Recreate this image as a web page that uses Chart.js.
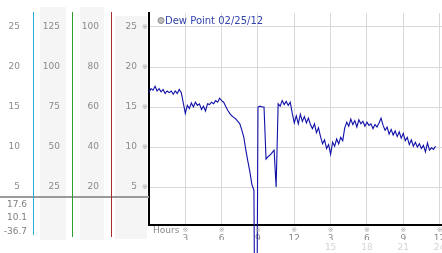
<!DOCTYPE html>
<html>
<head>
<meta charset="utf-8">
<script src="https://cdn.jsdelivr.net/npm/chart.js@4"></script>
<style>
	body { margin: 0; background: #fff; }
	#wrap { width: 442px; height: 253px; }
</style>
</head>
<body>
<div id="wrap"><canvas id="dewChart" width="442" height="253"></canvas></div>
<script>
"use strict";

// readings every 10 minutes, starting at midnight
const stepMinutes = 10;
const dewPoint = [
	16.8, 17.3, 17.1, 17.6, 17.0, 17.3, 16.9, 17.2, 16.7, 17.0, 16.8, 17.0, 16.6, 17.0, 16.7, 17.2, 16.8, 15.5,
	14.2, 15.2, 14.8, 15.5, 15.0, 15.6, 15.2, 15.4, 14.7, 15.1, 14.5, 15.4, 15.3, 15.6, 15.4, 15.8, 15.6, 16.1,
	15.8, 15.6, 15.1, 14.6, 14.2, 13.9, 13.7, 13.5, 13.2, 12.9, 12.1, 11.2, 9.6, 8.2, 6.9, 5.3, 4.6, -36.7,
	15.0, 15.1, 15.0, 15.0, 8.5, 8.8, 9.0, 9.3, 9.6, 5.0, 15.4, 15.1, 15.8, 15.3, 15.7, 15.2, 15.6, 14.2,
	13.0, 13.9, 12.9, 14.1, 13.2, 13.8, 13.0, 13.6, 12.8, 12.3, 12.9, 11.8, 12.4, 11.3, 10.4, 10.9, 9.8, 10.3,
	9.1, 10.6, 10.1, 11.0, 10.4, 11.2, 10.8, 12.4, 13.1, 12.6, 13.5, 12.8, 13.3, 12.5, 13.4, 12.9, 13.2, 12.6,
	13.1, 12.7, 12.9, 12.3, 12.8, 12.5, 13.0, 13.6, 12.7, 12.1, 12.5, 11.6, 12.2, 11.5, 12.0, 11.3, 11.9, 11.1,
	11.7, 10.8, 11.2, 10.3, 10.9, 10.1, 10.6, 10.0, 10.4, 9.8, 10.2, 9.4, 10.5, 9.6, 9.9, 9.7, 10.1
];

const seriesLabel = "Dew Point 02/25/12";
const xLabel = "Hours";
const hourTicks = [3, 6, 9, 12, 15, 18, 21, 24];
const lateHourTicks = [15, 18, 21, 24];
const dewTicks = [5, 10, 15, 20, 25];
const col2Ticks = [25, 50, 75, 100, 125];
const col3Ticks = [20, 40, 60, 80, 100];

const points = dewPoint.map((v, i) => ({ x: i * stepMinutes / 60, y: v }));
const stats = [Math.max(...dewPoint), dewPoint[dewPoint.length - 1], Math.min(...dewPoint)];

const font = { family: "DejaVu Sans", size: 9 };
const tickGray = "#8a8a8a";

function fixedWidth(w) {
	return (scale) => { scale.width = w; scale.paddingTop = 0; scale.paddingBottom = 0; };
}
function fixedHeight(h) {
	return (scale) => { scale.height = h; scale.paddingLeft = 0; scale.paddingRight = 0; };
}
function useTicks(values) {
	return (scale) => { scale.ticks = values.map(v => ({ value: v })); };
}

const panelPlugin = {
	id: "panel",
	beforeDraw(chart) {
		const ctx = chart.ctx;
		const s = chart.scales;
		ctx.save();
		ctx.fillStyle = "#f5f5f5";
		ctx.fillRect(s.c2.left + 7, 7, s.c2.width - 13, 233);
		ctx.fillRect(s.c3.left + 8, 7, s.c3.width - 15, 233);
		ctx.fillRect(s.y.left + 4, 16, s.y.width - 6, 223);
		ctx.restore();
	},
	afterDraw(chart) {
		const ctx = chart.ctx;
		const s = chart.scales;
		const area = chart.chartArea;
		ctx.save();

		// divider across the left panel
		ctx.fillStyle = "#9a9a9a";
		ctx.fillRect(0, 196, area.left, 2);

		// coloured column separators
		const seps = [[s.c1, "#2ea6d6", 235], [s.c2, "#2e9e2e", 237], [s.c3, "#a82a2a", 237]];
		for (const [sc, color, bottom] of seps) {
			ctx.fillStyle = color;
			ctx.fillRect(Math.round(sc.right), 12, 1, bottom - 12);
		}

		// min / max / last readouts
		ctx.font = "9px 'DejaVu Sans'";
		ctx.fillStyle = "#808080";
		ctx.textAlign = "right";
		ctx.textBaseline = "middle";
		[205, 218, 232].forEach((y, i) => ctx.fillText(stats[i].toFixed(1), 27, y));

		// little tick glyphs
		ctx.font = "7px 'DejaVu Sans'";
		ctx.fillStyle = "#aaa";
		ctx.textAlign = "center";
		for (const v of dewTicks) {
			ctx.fillText("※", area.left - 4, s.y.getPixelForValue(v));
		}
		for (const v of hourTicks) {
			ctx.fillText("※", s.x.getPixelForValue(v), 230);
		}

		// axis name
		ctx.font = "9px 'DejaVu Sans'";
		ctx.fillStyle = tickGray;
		ctx.textAlign = "left";
		ctx.fillText(xLabel, area.left + 4, 231);

		// legend inside the plot
		ctx.beginPath();
		ctx.arc(area.left + 12, 20.5, 3, 0, Math.PI * 2);
		ctx.fillStyle = "#bdbdbd";
		ctx.fill();
		ctx.strokeStyle = "#8c8c8c";
		ctx.lineWidth = 1;
		ctx.stroke();
		ctx.font = "10px 'DejaVu Sans'";
		ctx.fillStyle = "#3344aa";
		ctx.fillText(seriesLabel, area.left + 16, 21);

		ctx.restore();
	}
};

const sideAxis = (weight, min, max, values, width, pad) => ({
	type: "linear",
	position: "left",
	weight: weight,
	min: min,
	max: max,
	afterBuildTicks: useTicks(values),
	afterFit: fixedWidth(width),
	grid: { display: false, drawTicks: false },
	border: { display: false },
	ticks: { padding: pad, color: tickGray, font: font }
});

new Chart(document.getElementById("dewChart").getContext("2d"), {
	type: "line",
	data: {
		datasets: [{
			label: seriesLabel,
			data: points,
			borderColor: "#1010a8",
			borderWidth: 1.1,
			pointRadius: 0,
			tension: 0,
			clip: false,
			xAxisID: "x",
			yAxisID: "y"
		}]
	},
	options: {
		responsive: false,
		animation: false,
		devicePixelRatio: 1,
		layout: { padding: { top: 13, left: 0, right: 0, bottom: 0 } },
		plugins: {
			legend: { display: false },
			tooltip: { enabled: false }
		},
		scales: {
			y: {
				type: "linear",
				position: "left",
				weight: 0,
				min: 0.25,
				max: 26.75,
				afterBuildTicks: useTicks(dewTicks),
				afterFit: fixedWidth(38),
				grid: { color: "#d8d8d8", drawTicks: false },
				border: { color: "#000", width: 2 },
				ticks: { padding: 12, color: tickGray, font: font }
			},
			c3: sideAxis(1, 1, 107, col3Ticks, 39, 12),
			c2: sideAxis(2, 1.25, 133.75, col2Ticks, 39, 12),
			c1: sideAxis(3, 0.25, 26.75, dewTicks, 33, 13),
			x: {
				type: "linear",
				position: "bottom",
				weight: 0,
				min: 0,
				max: 24.2,
				afterBuildTicks: useTicks(hourTicks),
				afterFit: fixedHeight(15),
				grid: { color: "#d8d8d8", drawTicks: false },
				border: { color: "#000", width: 2 },
				ticks: {
					padding: 8,
					color: tickGray,
					font: font,
					maxRotation: 0,
					callback: (v) => (v % 12 === 0 ? 12 : v % 12)
				}
			},
			x2: {
				type: "linear",
				position: "bottom",
				weight: 1,
				min: 0,
				max: 24.2,
				afterBuildTicks: useTicks(lateHourTicks),
				afterFit: fixedHeight(13),
				grid: { display: false, drawTicks: false },
				border: { display: false },
				ticks: { padding: 2, color: "#d4d4d4", font: font, maxRotation: 0 }
			}
		}
	},
	plugins: [panelPlugin]
});
</script>
</body>
</html>
